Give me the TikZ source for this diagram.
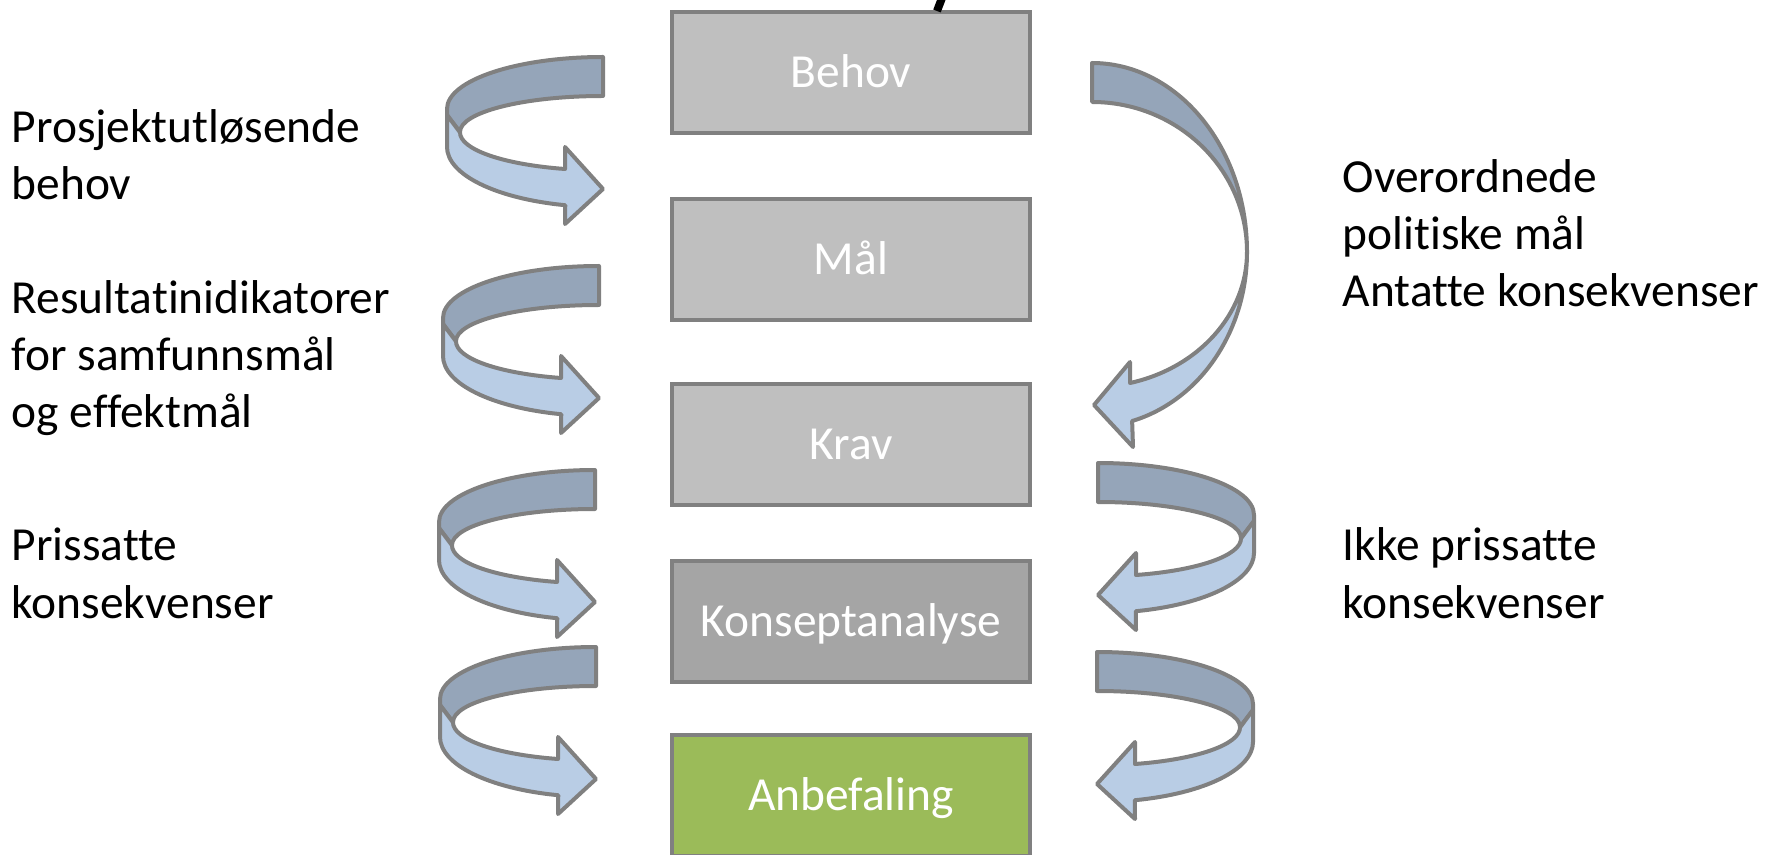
\documentclass[tikz,border=0pt]{standalone}
\usepackage{fontspec}
\setmainfont{Carlito}[Ligatures=NoCommon]
\usetikzlibrary{positioning}

\definecolor{boxgray}{HTML}{BFBFBF}
\definecolor{boxdark}{HTML}{A5A5A5}
\definecolor{boxgreen}{HTML}{9BBB59}
\definecolor{edgegray}{HTML}{808080}
\definecolor{backblue}{HTML}{95A5B9}
\definecolor{frontblue}{HTML}{B9CDE5}

\begin{document}
\begin{tikzpicture}[
    stage/.style={draw=edgegray, line width=0.04cm, fill=boxgray, minimum width=3.58cm, minimum height=1.21cm, inner sep=0pt, text=white, font=\fontsize{13.5}{16.3}\selectfont, text height=0.30cm, text depth=0cm},
    note/.style={anchor=base west, align=left, inner sep=0pt, font=\fontsize{13.5}{16.3}\selectfont},
    ribbon/.style={draw=edgegray, line width=0.04cm, line join=round},
    backside/.style={ribbon, fill=backblue},
    frontside/.style={ribbon, fill=frontblue},
    uturn/.pic={
        % back half of the ribbon
        \filldraw[backside] (0,0) arc[start angle=90, end angle=180, x radius=1.56, y radius=0.52]
            -- (-1.56,-0.58) -- (-1.43,-0.75)
            arc[start angle=180, end angle=90, x radius=1.43, y radius=0.36] -- cycle;
        % front half with the head
        \filldraw[frontside] (-1.56,-0.58) -- (-1.56,-0.90)
            arc[start angle=180, end angle=256, x radius=1.56, y radius=0.60]
            -- (-0.38,-1.67) -- (0,-1.32) -- (-0.38,-0.90) -- (-0.38,-1.12)
            arc[start angle=254.6, end angle=180, x radius=1.43, y radius=0.38] -- cycle;
    }
]
\useasboundingbox (0,0) rectangle (17.70,-8.55);

% Stages
\node[stage] (behov) at (8.51,-0.73) {Behov};
\node[stage] (maal) at (8.51,-2.595) {Mål};
\node[stage] (krav) at (8.51,-4.445) {Krav};
\node[stage, fill=boxdark] (konsept) at (8.51,-6.215) {Konseptanalyse};
\node[stage, fill=boxgreen] (anbefaling) at (8.51,-7.955) {Anbefaling};

% Left turns
\pic at (6.03,-0.57) {uturn};
\pic at (5.99,-2.66) {uturn};
\pic at (5.95,-4.70) {uturn};
\pic at (5.96,-6.47) {uturn};

% Right turns
\pic[xscale=-1] at (10.98,-4.63) {uturn};
\pic[xscale=-1] at (10.97,-6.52) {uturn};

% Long turn from Behov to Krav
\filldraw[backside] (10.92,-0.63) arc[start angle=90, end angle=0, x radius=1.55, y radius=1.89]
    arc[start angle=0, end angle=90, x radius=1.55, y radius=1.50] -- cycle;
\filldraw[frontside] (12.47,-2.52) arc[start angle=0, end angle=-75, x radius=1.55, y radius=1.75]
    -- (11.33,-4.47) -- (10.94,-4.05) -- (11.30,-3.62) -- (11.30,-3.83)
    arc[start angle=-75.8, end angle=0, x radius=1.55, y radius=1.35] -- cycle;

% Notes (placed at the baseline of their last line)
\node[note] (utlos) at (0.11,-2.00) {Prosjektutløsende\\behov};
\node[note] (indik) at (0.11,-4.28) {Resultatinidikatorer\\for samfunnsmål\\og effektmål};
\node[note] (pris) at (0.11,-6.18) {Prissatte\\konsekvenser};
\node[note] (polit) at (13.42,-3.07) {Overordnede\\politiske mål\\Antatte konsekvenser};
\node[note] (ikkepris) at (13.42,-6.18) {Ikke prissatte\\konsekvenser};

% Cut-off stroke at the top edge
\draw[line width=0.08cm] (9.37,-0.11) -- (9.42,0.02);

\end{tikzpicture}
\end{document}
